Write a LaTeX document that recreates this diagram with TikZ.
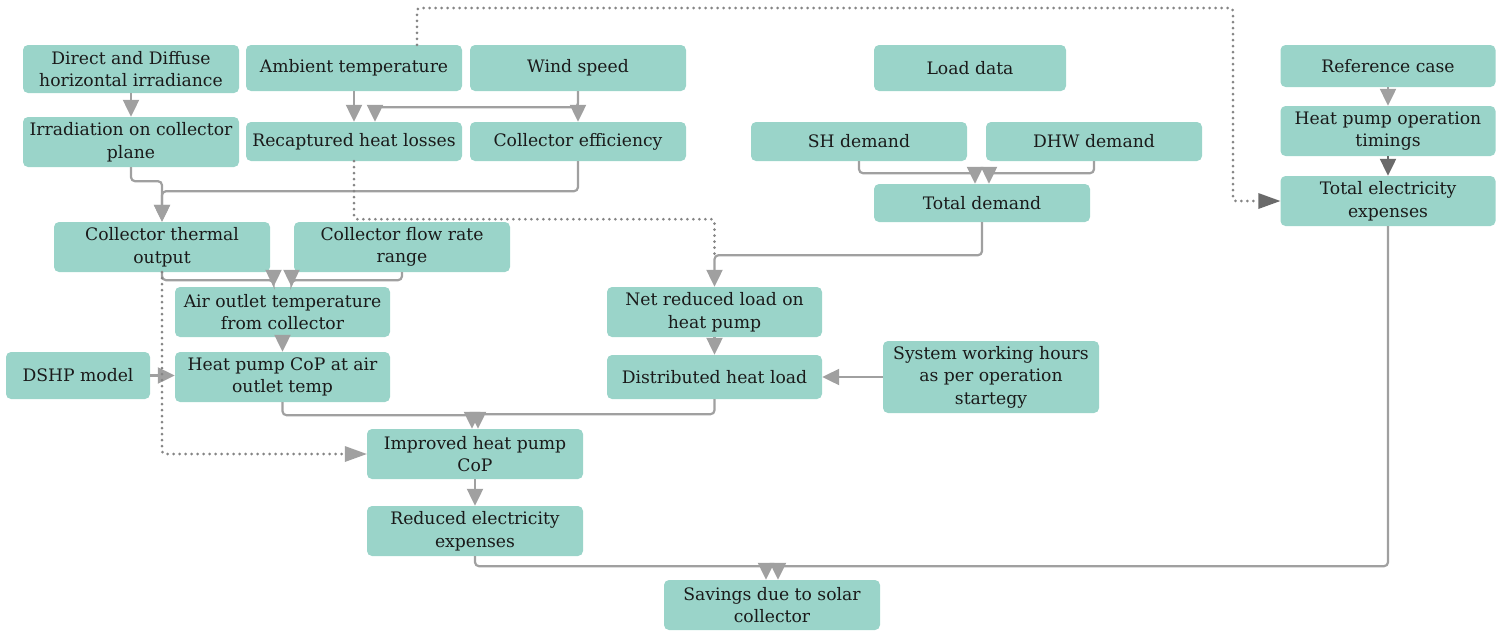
\documentclass[tikz,border=0pt]{standalone}
\usepackage{fontspec}
\setmainfont{DejaVu Serif}
\usetikzlibrary{arrows.meta,calc}
\definecolor{boxfill}{HTML}{9AD4C9}
\definecolor{linegray}{HTML}{A0A0A0}
\definecolor{darkgray}{HTML}{6A6A6A}
\definecolor{dotgray}{HTML}{858585}
\definecolor{txt}{HTML}{1A1A1A}
\tikzset{
  box/.style={fill=boxfill, rounded corners=5pt, minimum width=216pt, inner sep=0pt,
    align=center, text=txt, font=\fontsize{17.2}{22.5}\selectfont},
  conn/.style={draw=linegray, line width=2.2pt, rounded corners=4pt,
    -{Triangle[length=17pt,width=16pt]}},
  dconn/.style={conn, draw=darkgray},
  dotconn/.style={draw=dotgray, line width=3pt, line cap=round, dash pattern=on 0pt off 6pt,
    rounded corners=3pt},
}
\begin{document}
\begin{tikzpicture}[x=1pt,y=-1pt]
\useasboundingbox (0,0) rectangle (1504,633);
% row 1
\node[box, minimum height=48pt] (dd) at (131,69) {Direct and Diffuse\\horizontal irradiance};
\node[box, minimum height=46pt] (amb) at (354,68) {Ambient temperature};
\node[box, minimum height=46pt] (wind) at (578,68) {Wind speed};
\node[box, minimum height=46pt, minimum width=192pt] (load) at (970,68) {Load data};
\node[box, minimum height=42pt, minimum width=215pt] (ref) at (1388,66) {Reference case};
% row 2
\node[box, minimum height=50pt] (irr) at (131,142) {Irradiation on collector\\plane};
\node[box, minimum height=39pt] (rec) at (354,141.5) {Recaptured heat losses};
\node[box, minimum height=39pt] (eff) at (578,141.5) {Collector efficiency};
\node[box, minimum height=39pt] (sh) at (859,141.5) {SH demand};
\node[box, minimum height=39pt] (dhw) at (1094,141.5) {DHW demand};
\node[box, minimum height=50pt, minimum width=215pt] (hpot) at (1388,131) {Heat pump operation\\timings};
% row 3
\node[box, minimum height=38pt] (tdem) at (982,203) {Total demand};
\node[box, minimum height=50pt, minimum width=215pt] (tee) at (1388,201) {Total electricity\\expenses};
\node[box, minimum height=50pt] (cto) at (162,247) {Collector thermal\\output};
\node[box, minimum height=50pt] (cfr) at (402,247) {Collector flow rate\\range};
% row 4
\node[box, minimum height=50pt, minimum width=215pt] (aot) at (282.5,312) {Air outlet temperature\\from collector};
\node[box, minimum height=50pt, minimum width=215pt] (nrl) at (714.5,312) {Net reduced load on\\heat pump};
\node[box, minimum height=47pt, minimum width=144pt] (dshp) at (78,375.5) {DSHP model};
\node[box, minimum height=50pt, minimum width=215pt] (hpc) at (282.5,377) {Heat pump CoP at air\\outlet temp};
\node[box, minimum height=44pt, minimum width=215pt] (dhl) at (714.5,377) {Distributed heat load};
\node[box, minimum height=72pt] (swh) at (991,377) {System working hours\\as per operation\\startegy};
% row 5
\node[box, minimum height=50pt] (imp) at (475,454) {Improved heat pump\\CoP};
\node[box, minimum height=50pt] (red) at (475,531) {Reduced electricity\\expenses};
\node[box, minimum height=50pt] (sav) at (772,605) {Savings due to solar\\collector};
\coordinate (topcorner) at (1233,8);

% connectors
\draw[conn] (dd.south) -- (irr.north);
\draw[conn] (amb.south) -- (amb.south |- rec.north);
\draw[conn] (wind.south) -- (wind.south |- eff.north);
\draw[conn] (wind.south) -- ++(0,16) -| ([xshift=21pt]rec.north);
\draw[conn] (irr.south) -- ++(0,14) -| (cto.north);
\draw[conn] (eff.south) -- ++(0,30) -| (cto.north);
\draw[conn] (sh.south) -- ++(0,12) -| ([xshift=-7pt]tdem.north);
\draw[conn] (dhw.south) -- ++(0,12) -| ([xshift=7pt]tdem.north);
\draw[conn] (tdem.south) -- ++(0,33) -| (nrl.north);
\draw[conn] (cto.south) -- ++(0,8) -| ([xshift=-9pt]aot.north);
\draw[conn] (cfr.south) -- ++(0,8) -| ([xshift=9pt]aot.north);
\draw[conn] (aot.south) -- (hpc.north);
\draw[conn] (dshp.east) -- (dshp.east -| hpc.west);
\draw[conn] (nrl.south) -- (dhl.north);
\draw[conn] (swh.west) -- (swh.west -| dhl.east);
\draw[conn] (hpc.south) -- ++(0,13) -| ([xshift=-3pt]imp.north);
\draw[conn] (dhl.south) -- ++(0,15) -| ([xshift=3pt]imp.north);
\draw[conn] (imp.south) -- (red.north);
\draw[conn] (red.south) -- ++(0,10) -| ([xshift=-6pt]sav.north);
\draw[conn] (tee.south) -- ++(0,340) -| ([xshift=6pt]sav.north);
\draw[conn] (ref.south) -- (hpot.north);
\draw[dconn] (hpot.south) -- (tee.north);
% dotted connectors
\draw[dotconn] ([xshift=63pt]amb.north) |- (topcorner) |- ([xshift=-24pt]tee.west);
\fill[darkgray] (tee.west) -- ++(-22,-8) -- ++(0,16) -- cycle;
\draw[dotconn] (rec.south) -- ++(0,58) -| ($(nrl.north)+(0,-30)$);
\draw[dotconn] (cto.south) |- ([xshift=-24pt]imp.west);
\fill[linegray] (imp.west) -- ++(-22,-8) -- ++(0,16) -- cycle;
\end{tikzpicture}
\end{document}
